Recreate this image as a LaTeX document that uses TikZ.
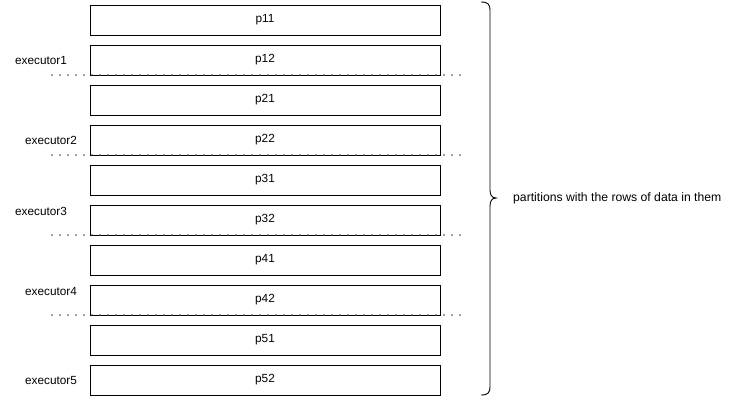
\documentclass[tikz,border=0pt]{standalone}
\usepackage{fontspec}
\setmainfont{Liberation Sans}
\usetikzlibrary{positioning}

\begin{document}
\begin{tikzpicture}[
        x=1pt, y=-1pt,
        node distance=10pt,
        part/.style={draw=black, rectangle, line width=0.9pt, minimum width=350pt, minimum height=30pt, inner sep=0pt, outer sep=0pt, font=\fontsize{11.8}{13}\selectfont},
        exec/.style={font=\fontsize{11.8}{13}\selectfont, inner sep=0pt},
        split/.style={line width=1.8pt, draw=black!75, dash pattern=on 0pt off 8pt, line cap=round}
    ]
        \useasboundingbox (0,0) rectangle (730,396);

        % 1. Partitions
        \node[part] (p11) at (265,20) {p11};
        \node[part, below=of p11] (p12) {p12};
        \node[part, below=of p12] (p21) {p21};
        \node[part, below=of p21] (p22) {p22};
        \node[part, below=of p22] (p31) {p31};
        \node[part, below=of p31] (p32) {p32};
        \node[part, below=of p32] (p41) {p41};
        \node[part, below=of p41] (p42) {p42};
        \node[part, below=of p42] (p51) {p51};
        \node[part, below=of p51] (p52) {p52};

        % 2. Executors
        \node[exec] (ex1) at (41,60) {executor1};
        \node[exec] (ex2) at (51,140) {executor2};
        \node[exec] (ex3) at (41,211) {executor3};
        \node[exec] (ex4) at (51,291) {executor4};
        \node[exec] (ex5) at (51,380) {executor5};

        % 3. Dotted separators between executors
        \draw[split] ([xshift=-38pt]p12.south west) -- ([xshift=20pt]p12.south east);
        \draw[split] ([xshift=-38pt]p22.south west) -- ([xshift=20pt]p22.south east);
        \draw[split] ([xshift=-38pt]p32.south west) -- ([xshift=20pt]p32.south east);
        \draw[split] ([xshift=-38pt]p42.south west) -- ([xshift=20pt]p42.south east);

        % 4. Brace and its label
        \draw[line width=0.9pt] (481,2) .. controls (488,2) and (490,4) .. (490,11)
            -- (490,190) .. controls (490,195) and (492,198) .. (496,198)
            .. controls (492,198) and (490,201) .. (490,206)
            -- (490,386) .. controls (490,393) and (488,395) .. (481,395);
        \node[exec, anchor=west, font=\fontsize{12.2}{14}\selectfont] (label) at (513,198) {partitions with the rows of data in them};
    \end{tikzpicture}
\end{document}
